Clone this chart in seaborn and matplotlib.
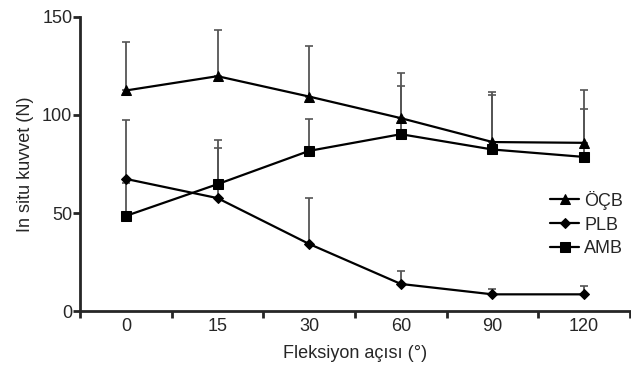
import numpy as np
import pandas as pd
import matplotlib
matplotlib.use("Agg")
import matplotlib.pyplot as plt
import seaborn as sns

angles = ["0", "15", "30", "60", "90", "120"]
ocb = [112.5, 119.8, 109.4, 98.4, 86.2, 85.8]
ocb_sd = [24.5, 23.7, 25.6, 23.0, 25.3, 26.7]
plb = [67.4, 57.6, 34.2, 13.8, 8.5, 8.5]
plb_sd = [30.1, 29.7, 23.2, 6.8, 2.7, 4.4]
amb = [48.5, 64.7, 81.7, 90.2, 82.4, 78.6]
amb_sd = [16.7, 18.7, 16.2, 24.8, 27.9, 24.7]

sns.set_theme(style="ticks")
plt.rcParams['font.family'] = ['Liberation Sans', 'DejaVu Sans']

fs = 13
fig = plt.figure(figsize=(6.31, 3.65), dpi=100)
ax = fig.add_axes([80/631, 54/365, 550/631, 294/365])

pos = np.arange(len(angles))
series = [("ÖÇB", ocb, ocb_sd, "^", 7.5), ("PLB", plb, plb_sd, "D", 5), ("AMB", amb, amb_sd, "s", 7)]

for name, vals, sd, mk, ms in series:
    ax.errorbar(pos, vals, yerr=[np.zeros(len(sd)), sd], fmt="none",
                ecolor="#555555", elinewidth=1.3, capsize=3, capthick=1.2, zorder=1)

rows = []
for name, vals, sd, mk, ms in series:
    for p, v in zip(pos, vals):
        rows.append({"x": p, "y": v, "series": name})
df = pd.DataFrame(rows)

for name, vals, sd, mk, ms in series:
    sub = df[df["series"] == name]
    sns.lineplot(data=sub, x="x", y="y", ax=ax, color="black", linewidth=1.6,
                 marker=mk, markersize=ms, markeredgecolor="black", label=name, zorder=3)

ax.set_ylim(0, 150)
ax.set_xlim(-0.5, 5.5)
ax.set_yticks([0, 50, 100, 150])
ax.set_xticks(np.arange(-0.5, 6, 1.0))
ax.set_xticklabels([])
ax.set_xticks(pos, minor=True)
ax.set_xticklabels(angles, minor=True)
ax.tick_params(axis="x", which="minor", length=0, pad=5, labelsize=fs)
ax.tick_params(axis="x", which="major", length=5, width=2, direction="out")
ax.tick_params(axis="y", length=5, width=2, direction="out", labelsize=fs, pad=0.5)
for s in ["top", "right"]:
    ax.spines[s].set_visible(False)
for s in ["left", "bottom"]:
    ax.spines[s].set_linewidth(2)

ax.set_xlabel("Fleksiyon açısı (°)", fontsize=fs, labelpad=7)
ax.set_ylabel("In situ kuvvet (N)", fontsize=fs, labelpad=6)

leg = ax.legend(loc="center right", bbox_to_anchor=((623 - 80) / 550, (311 - 224) / 294),
                frameon=False, fontsize=fs, handlelength=1.65, handletextpad=0.25,
                labelspacing=0.38, borderaxespad=0, borderpad=0)

fig.savefig("out.png", dpi=100)
